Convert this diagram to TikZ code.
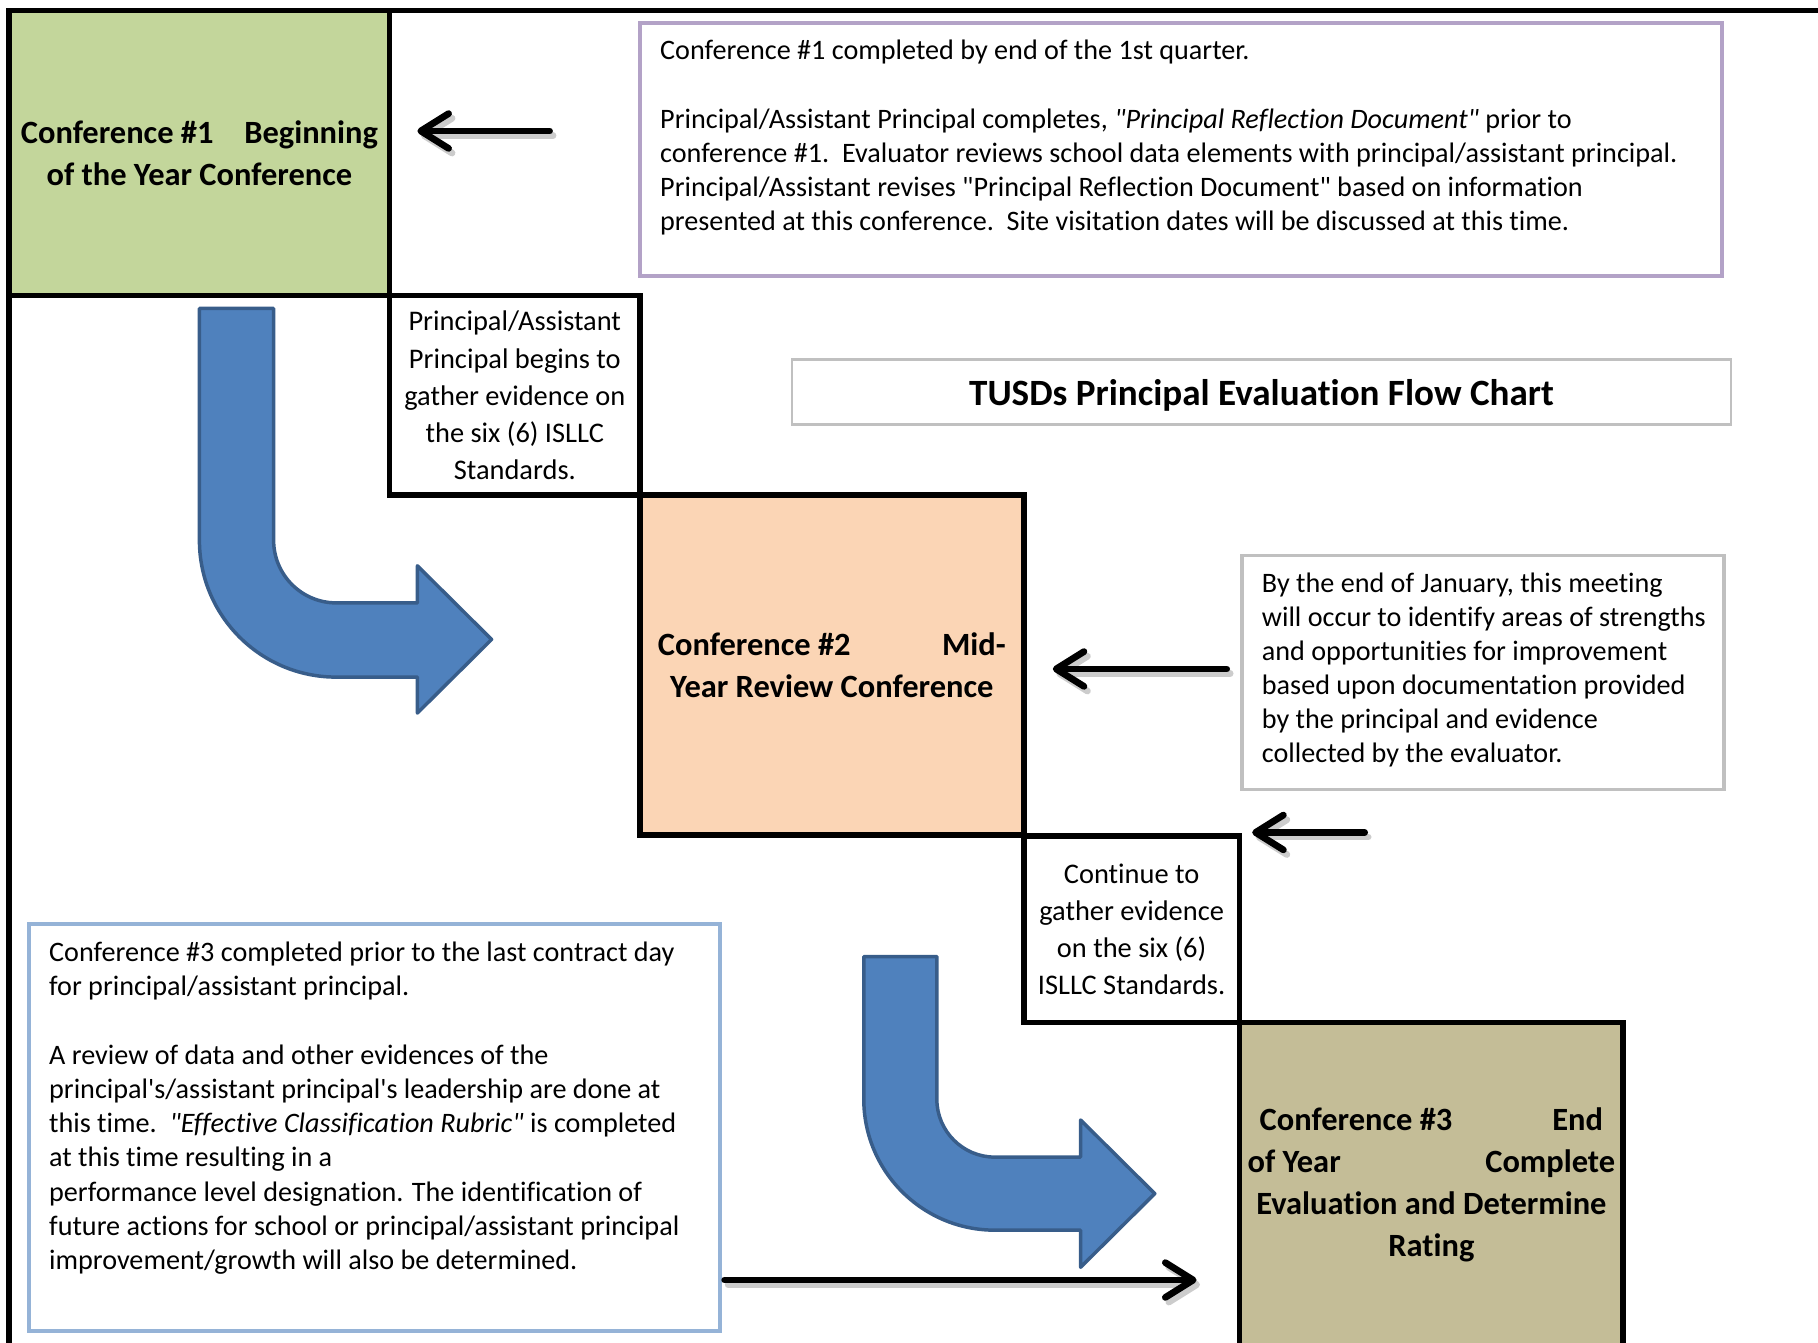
\documentclass[tikz,border=0pt]{standalone}
\usepackage{fontspec}
\setmainfont{Carlito}[Ligatures={TeXOff,NoCommon}]
\usetikzlibrary{arrows.meta}
\definecolor{cgreen}{HTML}{C3D69B}
\definecolor{corange}{HTML}{FBD5B5}
\definecolor{ctan}{HTML}{C4BD97}
\definecolor{cpurple}{HTML}{B3A2C7}
\definecolor{cgray}{HTML}{C0C0C0}
\definecolor{cblueline}{HTML}{95B3D7}
\definecolor{arrowfill}{HTML}{4F81BD}
\definecolor{arrowline}{HTML}{385D8A}
\begin{document}
\begin{tikzpicture}[x=0.5bp,y=-0.5bp,
  frameline/.style={draw=black, line width=2.4bp},
  confbox/.style={draw=black, line width=2.4bp, inner sep=0pt, align=center, font=\fontsize{14bp}{18bp}\selectfont\bfseries},
  stepbox/.style={draw=black, line width=2.4bp, inner sep=0pt, align=center, font=\fontsize{12.25bp}{16bp}\selectfont},
  notebox/.style={line width=1.5bp, fill=white, inner sep=0pt},
  notetext/.style={anchor=base west, inner sep=0pt, align=left, font=\fontsize{12.15bp}{14.75bp}\selectfont},
  bentarrow/.style={fill=arrowfill, draw=arrowline, line width=1.5bp, line join=round},
  pointer/.style={draw=black, line width=2.9bp, line cap=round, -{Straight Barb[length=12bp,width=15bp,round]}},
  pointershadow/.style={pointer, draw=black!20, transform canvas={shift={(1.5bp,-2bp)}}}
]
\useasboundingbox (0,0) rectangle (1568,1158);

% outer frame
\draw[frameline] (8,1175) -- (8,9) -- (1580,9);

% conference and step boxes
\node[confbox, fill=cgreen, minimum width=164bp, minimum height=123bp] (conf1) at (172,132)
  {\hbox to 154bp{Conference \#1\hfill Beginning}\\of the Year Conference};
\node[stepbox, minimum width=108bp, minimum height=86bp] (gather1) at (444,341)
  {Principal/Assistant\\Principal begins to\\gather evidence on\\the six (6) ISLLC\\Standards.};
\node[confbox, fill=corange, minimum width=165.5bp, minimum height=146.5bp] (conf2) at (717.5,573.5)
  {\hbox to 150bp{Conference \#2\hfill Mid-}\\Year Review Conference};
\node[stepbox, minimum width=93bp, minimum height=80.5bp] (gather2) at (976,801.5)
  {Continue to\\gather evidence\\on the six (6)\\ISLLC Standards.};
\node[confbox, fill=ctan, minimum width=165.5bp, minimum height=140bp] (conf3) at (1234.5,1022)
  {\hbox to 148bp{Conference \#3\hfill End}\\\hbox to 158.5bp{of Year\hfill Complete}\\Evaluation and Determine\\Rating};

% note boxes
\node[notebox, draw=cpurple, minimum width=466.5bp, minimum height=109bp] (note1) at (1018.5,129) {};
\node[notetext] (note1text) at (569,199)
  {Conference \#1 completed by end of the 1st quarter.\\[14.75bp]Principal/Assistant Principal completes, \textit{"Principal Reflection Document"} prior to\\conference \#1.\ \ Evaluator reviews school data elements with principal/assistant principal.\\Principal/Assistant revises "Principal Reflection Document" based on information\\presented at this conference.\ \ Site visitation dates will be discussed at this time.};

\node[notebox, draw=cgray, line width=1.2bp, minimum width=405bp, minimum height=28bp,
  text height=16bp, text depth=4bp,
  font=\fontsize{16bp}{19bp}\selectfont\bfseries] (title) at (1088,338) {TUSDs Principal Evaluation Flow Chart};

\node[notebox, draw=cgray, minimum width=208bp, minimum height=101bp] (note2) at (1279,580) {};
\node[notetext, font=\fontsize{12.15bp}{14.7bp}\selectfont] (note2text) at (1088,658)
  {By the end of January, this meeting\\will occur to identify areas of strengths\\and opportunities for improvement\\based upon documentation provided\\by the principal and evidence\\collected by the evaluator.};

\node[notebox, draw=cblueline, minimum width=298bp, minimum height=175.5bp] (note3) at (323,972.5) {};
\node[notetext] (note3text) at (42,1095)
  {Conference \#3 completed prior to the last contract day\\for principal/assistant principal.\\[14.75bp]A review of data and other evidences of the\\principal's/assistant principal's leadership are done at\\this time.\ \ \textit{"Effective Classification Rubric"} is completed\\at this time resulting in a\\performance level designation. The identification of\\future actions for school or principal/assistant principal\\improvement/growth will also be determined.};

% bent block arrows
\draw[bentarrow] (172,266) -- (172,466) .. controls (172,531.2) and (224.8,584) .. (290,584)
  -- (360,584) -- (360,615) -- (424,551.5) -- (360,488) -- (360,520) -- (290,520)
  .. controls (260.2,520) and (236,495.8) .. (236,466) -- (236,266) -- cycle;
\draw[bentarrow] (745,825) -- (745,948) .. controls (745,1010.4) and (795.6,1061) .. (858,1061)
  -- (932,1061) -- (932,1093) -- (996,1029.5) -- (932,966) -- (932,998) -- (858,998)
  .. controls (830.4,998) and (808,975.6) .. (808,948) -- (808,825) -- cycle;

% pointer arrows
\coordinate (p1s) at (474,113); \coordinate (p1e) at (360,113);
\coordinate (p2s) at (1058,577); \coordinate (p2e) at (908,577);
\coordinate (p3s) at (1177,718); \coordinate (p3e) at (1080,718);
\coordinate (p4s) at (625,1104); \coordinate (p4e) at (1032,1104);
\foreach \s/\e in {p1s/p1e,p2s/p2e,p3s/p3e,p4s/p4e} {
  \draw[pointershadow] (\s) -- (\e);
  \draw[pointer] (\s) -- (\e);
}
\end{tikzpicture}
\end{document}
